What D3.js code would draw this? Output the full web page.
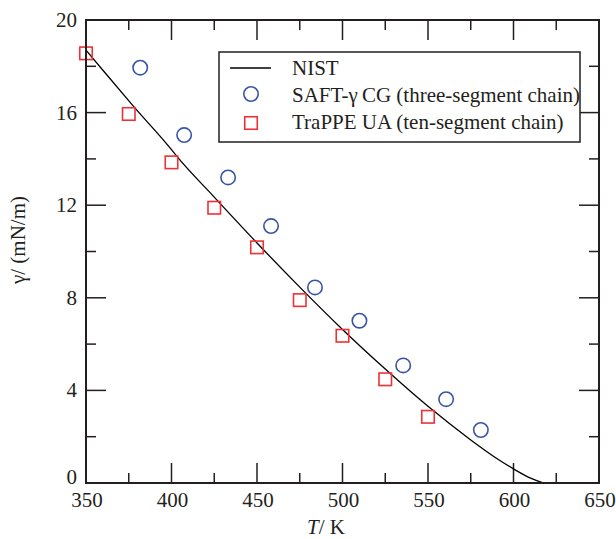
<!DOCTYPE html>
<html>
<head>
<meta charset="utf-8">
<script src="https://cdn.jsdelivr.net/npm/d3@7"></script>
<style>
  html, body { margin: 0; padding: 0; background: #fff; }
  svg { display: block; }
  svg text { font-family: 'Liberation Serif', 'Times New Roman', serif; }
</style>
</head>
<body>
<svg id="chart" width="616" height="539"></svg>
<script>
// --- data ---
// NIST curve (T in K, surface tension in mN/m)
const nistT   = [350, 360, 377.8, 400, 402.7, 425, 450, 475, 500, 525, 550, 575, 590, 600, 610, 617.7];
const nistG   = [18.7, 17.82, 16.27, 14.4, 14.15, 12.35, 10.37, 8.46, 6.63, 4.92, 3.31, 1.86, 1.07, 0.61, 0.21, 0];

// SAFT-gamma CG (three-segment chain)
const saftT   = [381.7, 407.4, 433.1, 458.2, 483.9, 509.9, 535.5, 560.6, 580.9];
const saftG   = [17.94, 15.03, 13.2, 11.1, 8.45, 7.01, 5.08, 3.62, 2.29];

// TraPPE UA (ten-segment chain)
const trappeT = [350, 375, 400, 425, 450, 475, 500, 525, 550];
const trappeG = [18.56, 15.94, 13.85, 11.89, 10.18, 7.9, 6.36, 4.48, 2.86];

const xTicks = [350, 400, 450, 500, 550, 600, 650];
const yTicks = [0, 4, 8, 12, 16, 20];
const xMinor = [375, 425, 475, 525, 575, 625];
const yMinor = [2, 6, 10, 14, 18];

const legendLabels = ["NIST", "SAFT-\u03b3\u2009CG (three-segment chain)", "TraPPE UA (ten-segment chain)"];

// --- layout ---
const svg = d3.select("#chart");
const pL = 86, pR = 599, pT = 20, pB = 483;
const ink = "#231f20";
const blue = "#3a54a5";
const red = "#ec3237";
const fs = 21;

const x = d3.scaleLinear().domain([350, 650]).range([pL, pR]);
const y = d3.scaleLinear().domain([0, 20]).range([pB, pT]);

// ticks (inward on all four sides)
const tickG = svg.append("g").attr("stroke", ink).attr("stroke-width", 1.5);
function xticks(vals, len) {
  vals.forEach(v => {
    tickG.append("line").attr("x1", x(v)).attr("x2", x(v)).attr("y1", pB).attr("y2", pB - len);
    tickG.append("line").attr("x1", x(v)).attr("x2", x(v)).attr("y1", pT).attr("y2", pT + len);
  });
}
function yticks(vals, len) {
  vals.forEach(v => {
    tickG.append("line").attr("y1", y(v)).attr("y2", y(v)).attr("x1", pL).attr("x2", pL + len);
    tickG.append("line").attr("y1", y(v)).attr("y2", y(v)).attr("x1", pR).attr("x2", pR - len);
  });
}
xticks(xTicks.slice(1, -1), 20);
xticks(xMinor, 10);
yticks(yTicks.slice(1, -1), 20);
yticks(yMinor, 10);

// NIST line
const line = d3.line().x((d, i) => x(nistT[i])).y(d => y(d)).curve(d3.curveMonotoneX);
svg.append("path")
  .attr("d", line(nistG))
  .attr("fill", "none")
  .attr("stroke", "#000")
  .attr("stroke-width", 1.3);

// circles
svg.append("g").selectAll("circle")
  .data(saftG)
  .join("circle")
  .attr("cx", (d, i) => x(saftT[i]))
  .attr("cy", d => y(d))
  .attr("r", 7.2)
  .attr("fill", "none")
  .attr("stroke", blue)
  .attr("stroke-width", 1.6);

// squares
const sq = 12.5;
svg.append("g").selectAll("rect")
  .data(trappeG)
  .join("rect")
  .attr("x", (d, i) => x(trappeT[i]) - sq / 2)
  .attr("y", d => y(d) - sq / 2)
  .attr("width", sq)
  .attr("height", sq)
  .attr("fill", "none")
  .attr("stroke", red)
  .attr("stroke-width", 1.6);

// frame
svg.append("rect")
  .attr("x", pL).attr("y", pT)
  .attr("width", pR - pL).attr("height", pB - pT)
  .attr("fill", "none").attr("stroke", ink).attr("stroke-width", 2);

// tick labels
svg.append("g").selectAll("text")
  .data(xTicks)
  .join("text")
  .attr("x", d => x(d) + 1)
  .attr("y", 507)
  .attr("text-anchor", "middle")
  .attr("font-size", fs)
  .attr("fill", ink)
  .text(d => d);

svg.append("g").selectAll("text")
  .data(yTicks)
  .join("text")
  .attr("x", 77)
  .attr("y", d => y(d) + (d === 0 ? 1 : 7))
  .attr("text-anchor", "end")
  .attr("font-size", fs)
  .attr("fill", ink)
  .text(d => d);

// axis titles
const xt = svg.append("text")
  .attr("x", 326).attr("y", 534)
  .attr("text-anchor", "middle")
  .attr("font-size", fs)
  .attr("fill", ink);
xt.append("tspan").attr("font-style", "italic").text("T");
xt.append("tspan").text("/ K");

svg.append("text")
  .attr("transform", "translate(25,240) rotate(-90)")
  .attr("text-anchor", "middle")
  .attr("font-size", fs)
  .attr("fill", ink)
  .text("\u03b3/ (mN/m)");

// legend
const lg = svg.append("g");
lg.append("rect")
  .attr("x", 219).attr("y", 52).attr("width", 361).attr("height", 90)
  .attr("fill", "#fff").attr("stroke", ink).attr("stroke-width", 1.5);
lg.append("line")
  .attr("x1", 230).attr("x2", 271).attr("y1", 68).attr("y2", 68)
  .attr("stroke", "#000").attr("stroke-width", 1.3);
lg.append("circle")
  .attr("cx", 251).attr("cy", 94).attr("r", 7.2)
  .attr("fill", "none").attr("stroke", blue).attr("stroke-width", 1.6);
lg.append("rect")
  .attr("x", 251 - sq / 2).attr("y", 123 - sq / 2).attr("width", sq).attr("height", sq)
  .attr("fill", "none").attr("stroke", red).attr("stroke-width", 1.6);
lg.selectAll("text.lab")
  .data(legendLabels)
  .join("text")
  .attr("class", "lab")
  .attr("x", 292)
  .attr("y", (d, i) => [75, 102, 129][i])
  .attr("font-size", fs)
  .attr("fill", ink)
  .text(d => d);
</script>
</body>
</html>
